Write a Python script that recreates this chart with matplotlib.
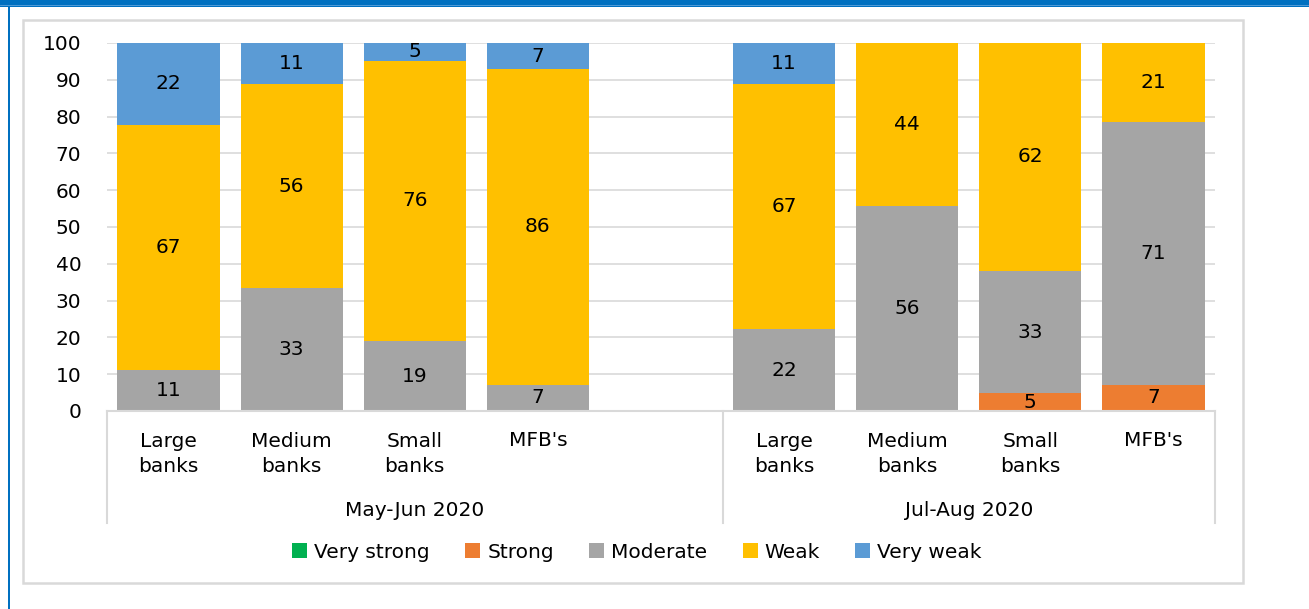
import matplotlib
matplotlib.use("Agg")
import matplotlib.pyplot as plt
from matplotlib.patches import Rectangle, Patch
from matplotlib.lines import Line2D
import numpy as np

plt.rcParams['font.family'] = ['DejaVu Sans']

periods = ["May-Jun 2020", "Jul-Aug 2020"]
categories = ["Large\nbanks", "Medium\nbanks", "Small\nbanks", "MFB's"]
series = ["Very strong", "Strong", "Moderate", "Weak", "Very weak"]
colors = ["#00B050", "#ED7D31", "#A5A5A5", "#FFC000", "#5B9BD5"]

# values per bar (May-Jun: 4 bars, Jul-Aug: 4 bars)
very_strong = [0, 0, 0, 0, 0, 0, 0, 0]
strong      = [0, 0, 0, 0, 0, 0, 4.8, 7.1]
moderate    = [11.1, 33.3, 19.0, 7.1, 22.2, 55.6, 33.3, 71.4]
weak        = [66.7, 55.6, 76.2, 85.8, 66.7, 44.4, 61.9, 21.4]
very_weak   = [22.2, 11.1, 4.8, 7.1, 11.1, 0, 0, 0]

data = [very_strong, strong, moderate, weak, very_weak]
xpos = [0, 1, 2, 3, 5, 6, 7, 8]

FS = 14.5
W, H = 1309, 609
fig = plt.figure(figsize=(W / 100, H / 100), dpi=100)

ax = fig.add_axes([107 / W, 1 - 411 / H, (1215 - 107) / W, (411 - 43) / H])
ax.set_xlim(-0.5, 8.5)
ax.set_ylim(0, 100)
ax.set_yticks(np.arange(0, 101, 10))
ax.set_xticks([])
ax.tick_params(axis='y', length=0, labelsize=FS, pad=18.5)
for s in ax.spines.values():
    s.set_visible(False)
ax.grid(axis='y', color='#D9D9D9', linewidth=1.2)
ax.set_axisbelow(True)

bottom = np.zeros(len(xpos))
for name, vals, col in zip(series, data, colors):
    vals = np.array(vals, dtype=float)
    ax.bar(xpos, vals, bottom=bottom, width=0.83, color=col, label=name, zorder=2)
    for x, v, b in zip(xpos, vals, bottom):
        if v > 0:
            ax.text(x, b + v / 2, f"{round(v):d}", ha='center', va='center',
                    fontsize=FS, color='black', zorder=3)
    bottom += vals

# category axis
tr = ax.get_xaxis_transform()
line_col = '#D9D9D9'
ax.add_line(Line2D([-0.5, 8.5], [0, 0], transform=tr, color=line_col, lw=1.5, clip_on=False, zorder=3))
low = -(523 - 411) / (411 - 43)
for xv in [-0.5, 4.5, 8.5]:
    ax.add_line(Line2D([xv, xv], [0, low], transform=tr, color=line_col, lw=1.5, clip_on=False))
labels_all = categories + categories
for x, lab in zip(xpos, labels_all):
    if "\n" in lab:
        ax.text(x, -(454 - 411) / 368, lab, transform=tr, ha='center', va='center',
                fontsize=FS, linespacing=1.35)
    else:
        ax.text(x, -(441 - 411) / 368, lab, transform=tr, ha='center', va='center',
                fontsize=FS)
ax.text(2.0, -(510 - 411) / 368, periods[0], transform=tr, ha='center', va='center', fontsize=FS)
ax.text(6.5, -(510 - 411) / 368, periods[1], transform=tr, ha='center', va='center', fontsize=FS)

# legend
handles = [Patch(facecolor=c, edgecolor='none') for c in colors]
fig.legend(handles, series, loc='center', bbox_to_anchor=(637 / W, 1 - 552 / H), ncol=5,
           frameon=False, fontsize=FS, handlelength=0.75, handleheight=0.75,
           handletextpad=0.35, columnspacing=1.75)

# outer frame and blue border
fig.patches.append(Rectangle((23 / W, 1 - 583 / H), (1243 - 23) / W, (583 - 20) / H,
                             transform=fig.transFigure, fill=False, edgecolor='#D9D9D9', lw=1.8))
fig.patches.append(Rectangle((0, 1 - 7 / H), 1, 7 / H, transform=fig.transFigure,
                             facecolor='#0070C0', edgecolor='none'))
fig.add_artist(Line2D([0, 1], [1 - 4.8 / H, 1 - 4.8 / H], transform=fig.transFigure,
                      color='#5FA3DC', lw=0.6))
fig.patches.append(Rectangle((7.5 / W, 0), 2.5 / W, 1 - 6 / H, transform=fig.transFigure,
                             facecolor='#0070C0', edgecolor='none'))

fig.savefig("out.png", dpi=100)
